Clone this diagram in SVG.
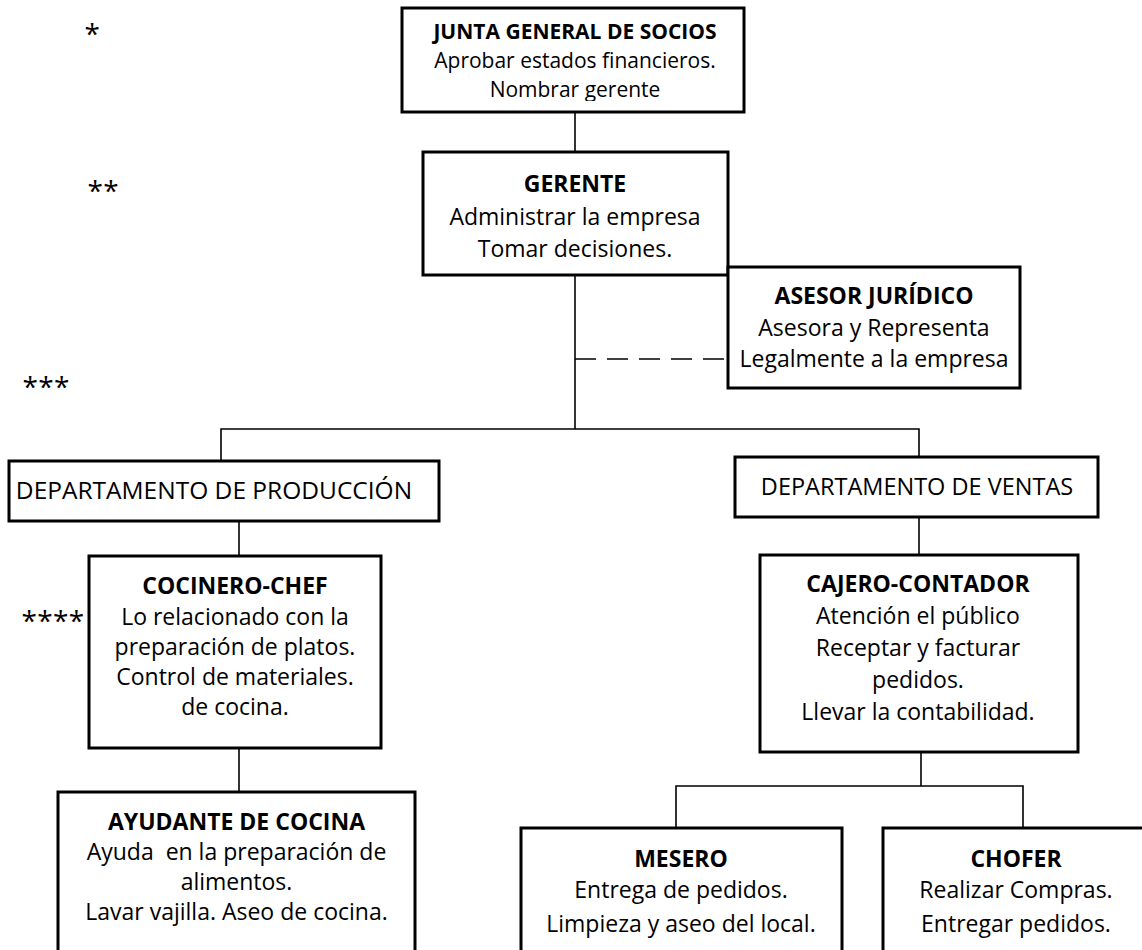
<svg xmlns="http://www.w3.org/2000/svg" width="1142" height="950" viewBox="0 0 1142 950">
  <style>
    .box { fill: #fff; stroke: #000; stroke-width: 3; }
    .ln { fill: none; stroke: #000; stroke-width: 1.6; }
    .dash { stroke-dasharray: 21 11; }
    text { font-family: "Open Sans", "Liberation Sans", sans-serif; font-size: 23px; text-anchor: middle; fill: #000; }
    .b { font-weight: bold; }
    .sm { font-size: 21px; }
    .dp { font-size: 24.5px; }
    .dv { font-size: 23.5px; }
    .star { text-anchor: start; font-size: 28px; letter-spacing: 0.3px; }
  </style>
  <defs>
    <clipPath id="juntaClip">
      <rect x="402" y="8" width="344" height="93"/>
    </clipPath>
  </defs>
  <rect width="1142" height="950" fill="#fff"/>

  <!-- level markers -->
  <g id="markers">
    <text class="star" x="84.5" y="44">*</text>
    <text class="star" x="87.5" y="201">**</text>
    <text class="star" x="22.5" y="397">***</text>
    <text class="star" x="21.5" y="631">****</text>
  </g>

  <!-- connectors -->
  <g id="connectors">
    <line class="ln" x1="575" y1="112" x2="575" y2="152"/>
    <line class="ln" x1="575" y1="275" x2="575" y2="429"/>
    <line class="ln dash" x1="575" y1="359" x2="728" y2="359"/>
    <polyline class="ln" points="221,461 221,429 919,429 919,457"/>
    <line class="ln" x1="239" y1="521" x2="239" y2="556"/>
    <line class="ln" x1="239" y1="748" x2="239" y2="792"/>
    <line class="ln" x1="919" y1="517" x2="919" y2="555"/>
    <line class="ln" x1="921" y1="752" x2="921" y2="786"/>
    <polyline class="ln" points="676,828 676,786 1023,786 1023,828"/>
  </g>

  <g id="junta">
    <rect class="box" x="402" y="8" width="342" height="104"/>
    <text class="b sm" x="575" y="39">JUNTA GENERAL DE SOCIOS</text>
    <text class="sm" x="575" y="68">Aprobar estados financieros.</text>
    <text class="sm" x="575" y="97" clip-path="url(#juntaClip)">Nombrar gerente</text>
  </g>

  <g id="gerente">
    <rect class="box" x="423" y="152" width="305" height="123"/>
    <text class="b" x="575" y="192">GERENTE</text>
    <text x="575" y="225">Administrar la empresa</text>
    <text x="575" y="257">Tomar decisiones.</text>
  </g>

  <g id="asesor">
    <rect class="box" x="728" y="267" width="292" height="121"/>
    <text class="b" x="874" y="304">ASESOR JURÍDICO</text>
    <text x="874" y="336">Asesora y Representa</text>
    <text x="874" y="367">Legalmente a la empresa</text>
  </g>

  <g id="produccion">
    <rect class="box" x="9" y="461" width="430" height="60"/>
    <text class="dp" x="214" y="499">DEPARTAMENTO DE PRODUCCIÓN</text>
  </g>

  <g id="ventas">
    <rect class="box" x="735" y="457" width="363" height="60"/>
    <text class="dv" x="917" y="495">DEPARTAMENTO DE VENTAS</text>
  </g>

  <g id="cocinero">
    <rect class="box" x="89" y="556" width="292" height="192"/>
    <text class="b" x="235" y="594">COCINERO-CHEF</text>
    <text x="235" y="625">Lo relacionado con la</text>
    <text x="235" y="655">preparación de platos.</text>
    <text x="235" y="685">Control de materiales.</text>
    <text x="235" y="715">de cocina.</text>
  </g>

  <g id="ayudante">
    <rect class="box" x="58" y="792" width="357" height="170"/>
    <text class="b" x="236.5" y="830">AYUDANTE DE COCINA</text>
    <text x="236.5" y="860" xml:space="preserve">Ayuda  en la preparación de</text>
    <text x="236.5" y="890">alimentos.</text>
    <text x="236.5" y="920">Lavar vajilla. Aseo de cocina.</text>
  </g>

  <g id="cajero">
    <rect class="box" x="760" y="555" width="318" height="197"/>
    <text class="b" x="918" y="592">CAJERO-CONTADOR</text>
    <text x="918" y="624">Atención el público</text>
    <text x="918" y="656">Receptar y facturar</text>
    <text x="918" y="688">pedidos.</text>
    <text x="918" y="720">Llevar la contabilidad.</text>
  </g>

  <g id="mesero">
    <rect class="box" x="521" y="828" width="321" height="135"/>
    <text class="b" x="681" y="867">MESERO</text>
    <text x="681" y="898">Entrega de pedidos.</text>
    <text x="681" y="932">Limpieza y aseo del local.</text>
  </g>

  <g id="chofer">
    <rect class="box" x="883" y="828" width="270" height="135"/>
    <text class="b" x="1016" y="867">CHOFER</text>
    <text x="1016" y="898">Realizar Compras.</text>
    <text x="1016" y="932">Entregar pedidos.</text>
  </g>
</svg>
